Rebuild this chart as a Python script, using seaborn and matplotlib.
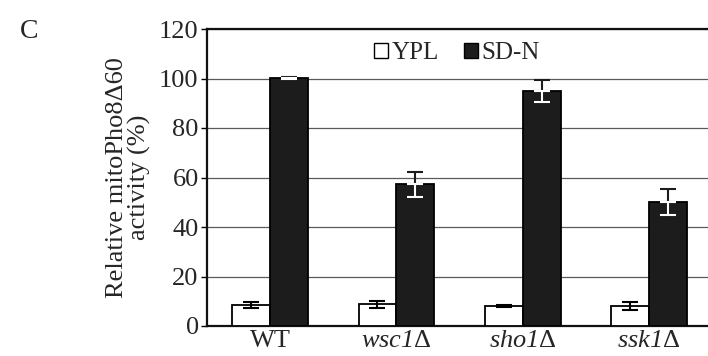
import matplotlib
matplotlib.use('Agg')
import matplotlib.pyplot as plt
import matplotlib.patches as mpatches
import seaborn as sns
import pandas as pd
import numpy as np

strains = ['WT', 'wsc1Δ', 'sho1Δ', 'ssk1Δ']
strain_labels = ['WT', r'$\mathit{wsc1}\mathsf{\Delta}$',
                 r'$\mathit{sho1}\mathsf{\Delta}$',
                 r'$\mathit{ssk1}\mathsf{\Delta}$']
conditions = ['YPL', 'SD-N']
ypl_mean = [8.5, 8.8, 8.0, 8.0]
ypl_err = [1.2, 1.5, 0.5, 1.5]
sdn_mean = [100.2, 57.3, 95.0, 50.0]
sdn_err = [0.5, 5.0, 4.5, 5.3]
yticks = [0, 20, 40, 60, 80, 100, 120]

df = pd.DataFrame({
    'strain': strains * 2,
    'condition': ['YPL'] * 4 + ['SD-N'] * 4,
    'value': ypl_mean + sdn_mean,
})

sns.set_style('white')
plt.rcParams['font.family'] = ['Liberation Serif', 'DejaVu Serif']
# italic strain names (digits too) with an upright delta
plt.rcParams['mathtext.fontset'] = 'custom'
plt.rcParams['mathtext.rm'] = 'Liberation Serif:italic'
plt.rcParams['mathtext.it'] = 'Liberation Serif:italic'
plt.rcParams['mathtext.sf'] = 'Liberation Serif'

fig = plt.figure(figsize=(7.08, 3.56), dpi=100)
ax = fig.add_axes([207 / 708, 30 / 356, 505 / 708, 297 / 356])

sns.barplot(data=df, x='strain', y='value', hue='condition', order=strains,
            hue_order=conditions, palette={'YPL': 'white', 'SD-N': '#1c1c1c'},
            width=0.6, edgecolor='black', linewidth=1.3, errorbar=None,
            legend=False, ax=ax, zorder=3)

# error bars, positioned from the drawn bars
n = len(strains)
bars = ax.patches
for i, bar in enumerate(bars[:2 * n]):
    x = bar.get_x() + bar.get_width() / 2
    if i < n:
        m, e = ypl_mean[i], ypl_err[i]
        ax.errorbar(x, m, yerr=e, color='black', capsize=6, capthick=1.5,
                    elinewidth=1.5, zorder=4)
    else:
        m, e = sdn_mean[i - n], sdn_err[i - n]
        ax.errorbar(x, m, yerr=[[0], [e]], color='#1c1c1c', capsize=6,
                    capthick=1.5, elinewidth=1.5, zorder=4)
        ax.errorbar(x, m, yerr=[[e], [0]], color='white', capsize=6,
                    capthick=1.5, elinewidth=1.5, zorder=4)

ax.set_ylim(0, 120)
ax.set_xlim(-0.5, n - 0.5)
ax.set_yticks(yticks)
ax.yaxis.grid(True, color='#5a5a5a', linewidth=0.9, zorder=0)
ax.set_axisbelow(True)

ax.set_xticks(range(n))
ax.set_xticklabels(strain_labels, fontsize=19)
ax.set_xticks(np.arange(n + 1) - 0.5, minor=True)
ax.tick_params(axis='x', which='major', length=0, pad=3)
ax.tick_params(axis='x', which='minor', length=5, width=1, direction='out',
               color='black')
ax.tick_params(axis='y', length=4, width=1, direction='out', color='black',
               labelsize=19, pad=2, left=True)

ax.set_xlabel('')
ax.set_ylabel('Relative mitoPho8Δ60\nactivity (%)', fontsize=19,
              linespacing=1.0, labelpad=6)

for side in ['left', 'bottom', 'top']:
    ax.spines[side].set_visible(True)
    ax.spines[side].set_color('#111111')
    ax.spines[side].set_linewidth(1.6)
ax.spines['right'].set_visible(False)

handles = [mpatches.Patch(facecolor='white', edgecolor='black', linewidth=1),
           mpatches.Patch(facecolor='#1c1c1c', edgecolor='black', linewidth=1)]
leg = ax.legend(handles, conditions, loc='upper center',
                bbox_to_anchor=(0.495, 1.015), ncol=2, frameon=True,
                fontsize=18, handlelength=0.55, handleheight=0.55,
                handletextpad=0.15, columnspacing=1.0, borderpad=0.2)
leg.get_frame().set_facecolor('white')
leg.get_frame().set_edgecolor('white')
leg.set_zorder(5)

fig.text(20 / 708, 1 - 31 / 356, 'C', fontsize=20, va='center', ha='left')

fig.savefig('out.png', dpi=100)
